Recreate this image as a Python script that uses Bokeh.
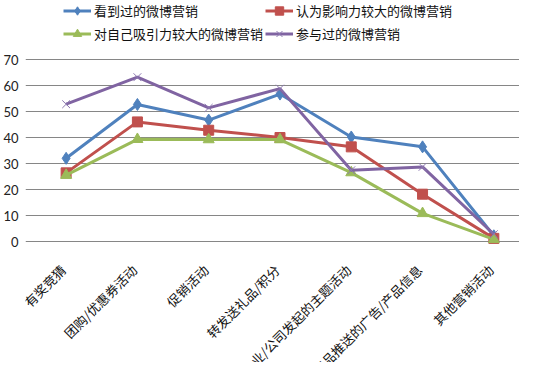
from math import pi
from bokeh.plotting import figure
from bokeh.models import ColumnDataSource, Range1d, FixedTicker, Legend, LegendItem
from bokeh.embed import file_html
from bokeh.resources import INLINE

categories = ["有奖竞猜", "团购/优惠券活动", "促销活动", "转发送礼品/积分",
              "企业/公司发起的主题活动", "企业/公司对产品推送的广告/产品信息", "其他营销活动"]
seen = [32.0, 52.7, 46.7, 56.7, 40.2, 36.4, 2.2]
influential = [26.4, 46.0, 42.8, 40.0, 36.4, 18.2, 1.2]
attractive = [25.5, 39.3, 39.2, 39.2, 26.5, 10.8, 0.8]
participated = [52.8, 63.2, 51.4, 58.8, 27.4, 28.7, 2.8]
series_names = ["看到过的微博营销", "认为影响力较大的微博营销", "对自己吸引力较大的微博营销", "参与过的微博营销"]
y_ticks = [0, 10, 20, 30, 40, 50, 60, 70]

# layout constants (pixels)
W, H = 519, 362
top_px, zero_px = 59.0, 241.0          # where 70 and 0 sit from the top of the frame
px_per_unit = (zero_px - top_px) / 70.0
label_gap_px = 26.0

xs = list(range(len(categories)))
y_start = -(H - zero_px) / px_per_unit
y_end = 70 + top_px / px_per_unit

p = figure(width=W, height=H, output_backend="svg", toolbar_location=None,
           x_range=Range1d(-0.57, 6.36), y_range=Range1d(y_start, y_end),
           min_border_left=24, min_border_right=0, min_border_top=0, min_border_bottom=0)
p.outline_line_color = None
p.background_fill_color = "white"
p.border_fill_color = "white"

p.xaxis.visible = False
p.xgrid.visible = False
p.ygrid.grid_line_color = "#868686"
p.ygrid.grid_line_width = 1
p.yaxis.ticker = FixedTicker(ticks=y_ticks)
p.yaxis.axis_line_color = None
p.yaxis.major_tick_line_color = None
p.yaxis.minor_tick_line_color = None
p.yaxis.major_tick_out = 0
p.yaxis.major_tick_in = 0
p.yaxis.minor_tick_out = 0
p.yaxis.major_label_standoff = 7
p.yaxis.major_label_text_font = "Lato"
p.yaxis.major_label_text_font_size = "13px"
p.yaxis.major_label_text_color = "#222222"

colors = ["#4F81BD", "#C0504D", "#9BBB59", "#8064A2"]
markers = ["diamond", "square", "triangle", "x"]
sizes = [12, 10, 11, 11]
data = [seen, influential, attractive, participated]

items = []
for name, vals, c, m, s in zip(series_names, data, colors, markers, sizes):
    src = ColumnDataSource(dict(x=xs, y=vals))
    ln = p.line("x", "y", source=src, line_color=c, line_width=3)
    if m == "x":
        sc = p.scatter("x", "y", source=src, marker=m, size=s, line_color="#8C78B0", line_width=1)
    else:
        sc = p.scatter("x", "y", source=src, marker=m, size=s, fill_color=c, line_color=c)
    items.append(LegendItem(label=name, renderers=[ln, sc]))

legend = Legend(items=items, orientation="horizontal", ncols=2, location=(38, 318),
                label_text_font="Noto Sans CJK SC", label_text_font_size="13px",
                label_text_color="#111111", glyph_width=28, glyph_height=21, label_height=21,
                label_standoff=3, spacing=2, padding=0, margin=0,
                border_line_color=None, background_fill_alpha=0)
p.add_layout(legend, "center")

label_y = -label_gap_px / px_per_unit
lsrc = ColumnDataSource(dict(x=xs, y=[label_y] * len(xs), text=categories))
p.text("x", "y", text="text", source=lsrc, angle=pi / 4, x_offset=-3,
       text_align="right", text_baseline="middle",
       text_font={"value": "Noto Sans CJK SC"}, text_font_size="13px", text_color="#111111")

open("out.html", "w").write(file_html(p, INLINE))
